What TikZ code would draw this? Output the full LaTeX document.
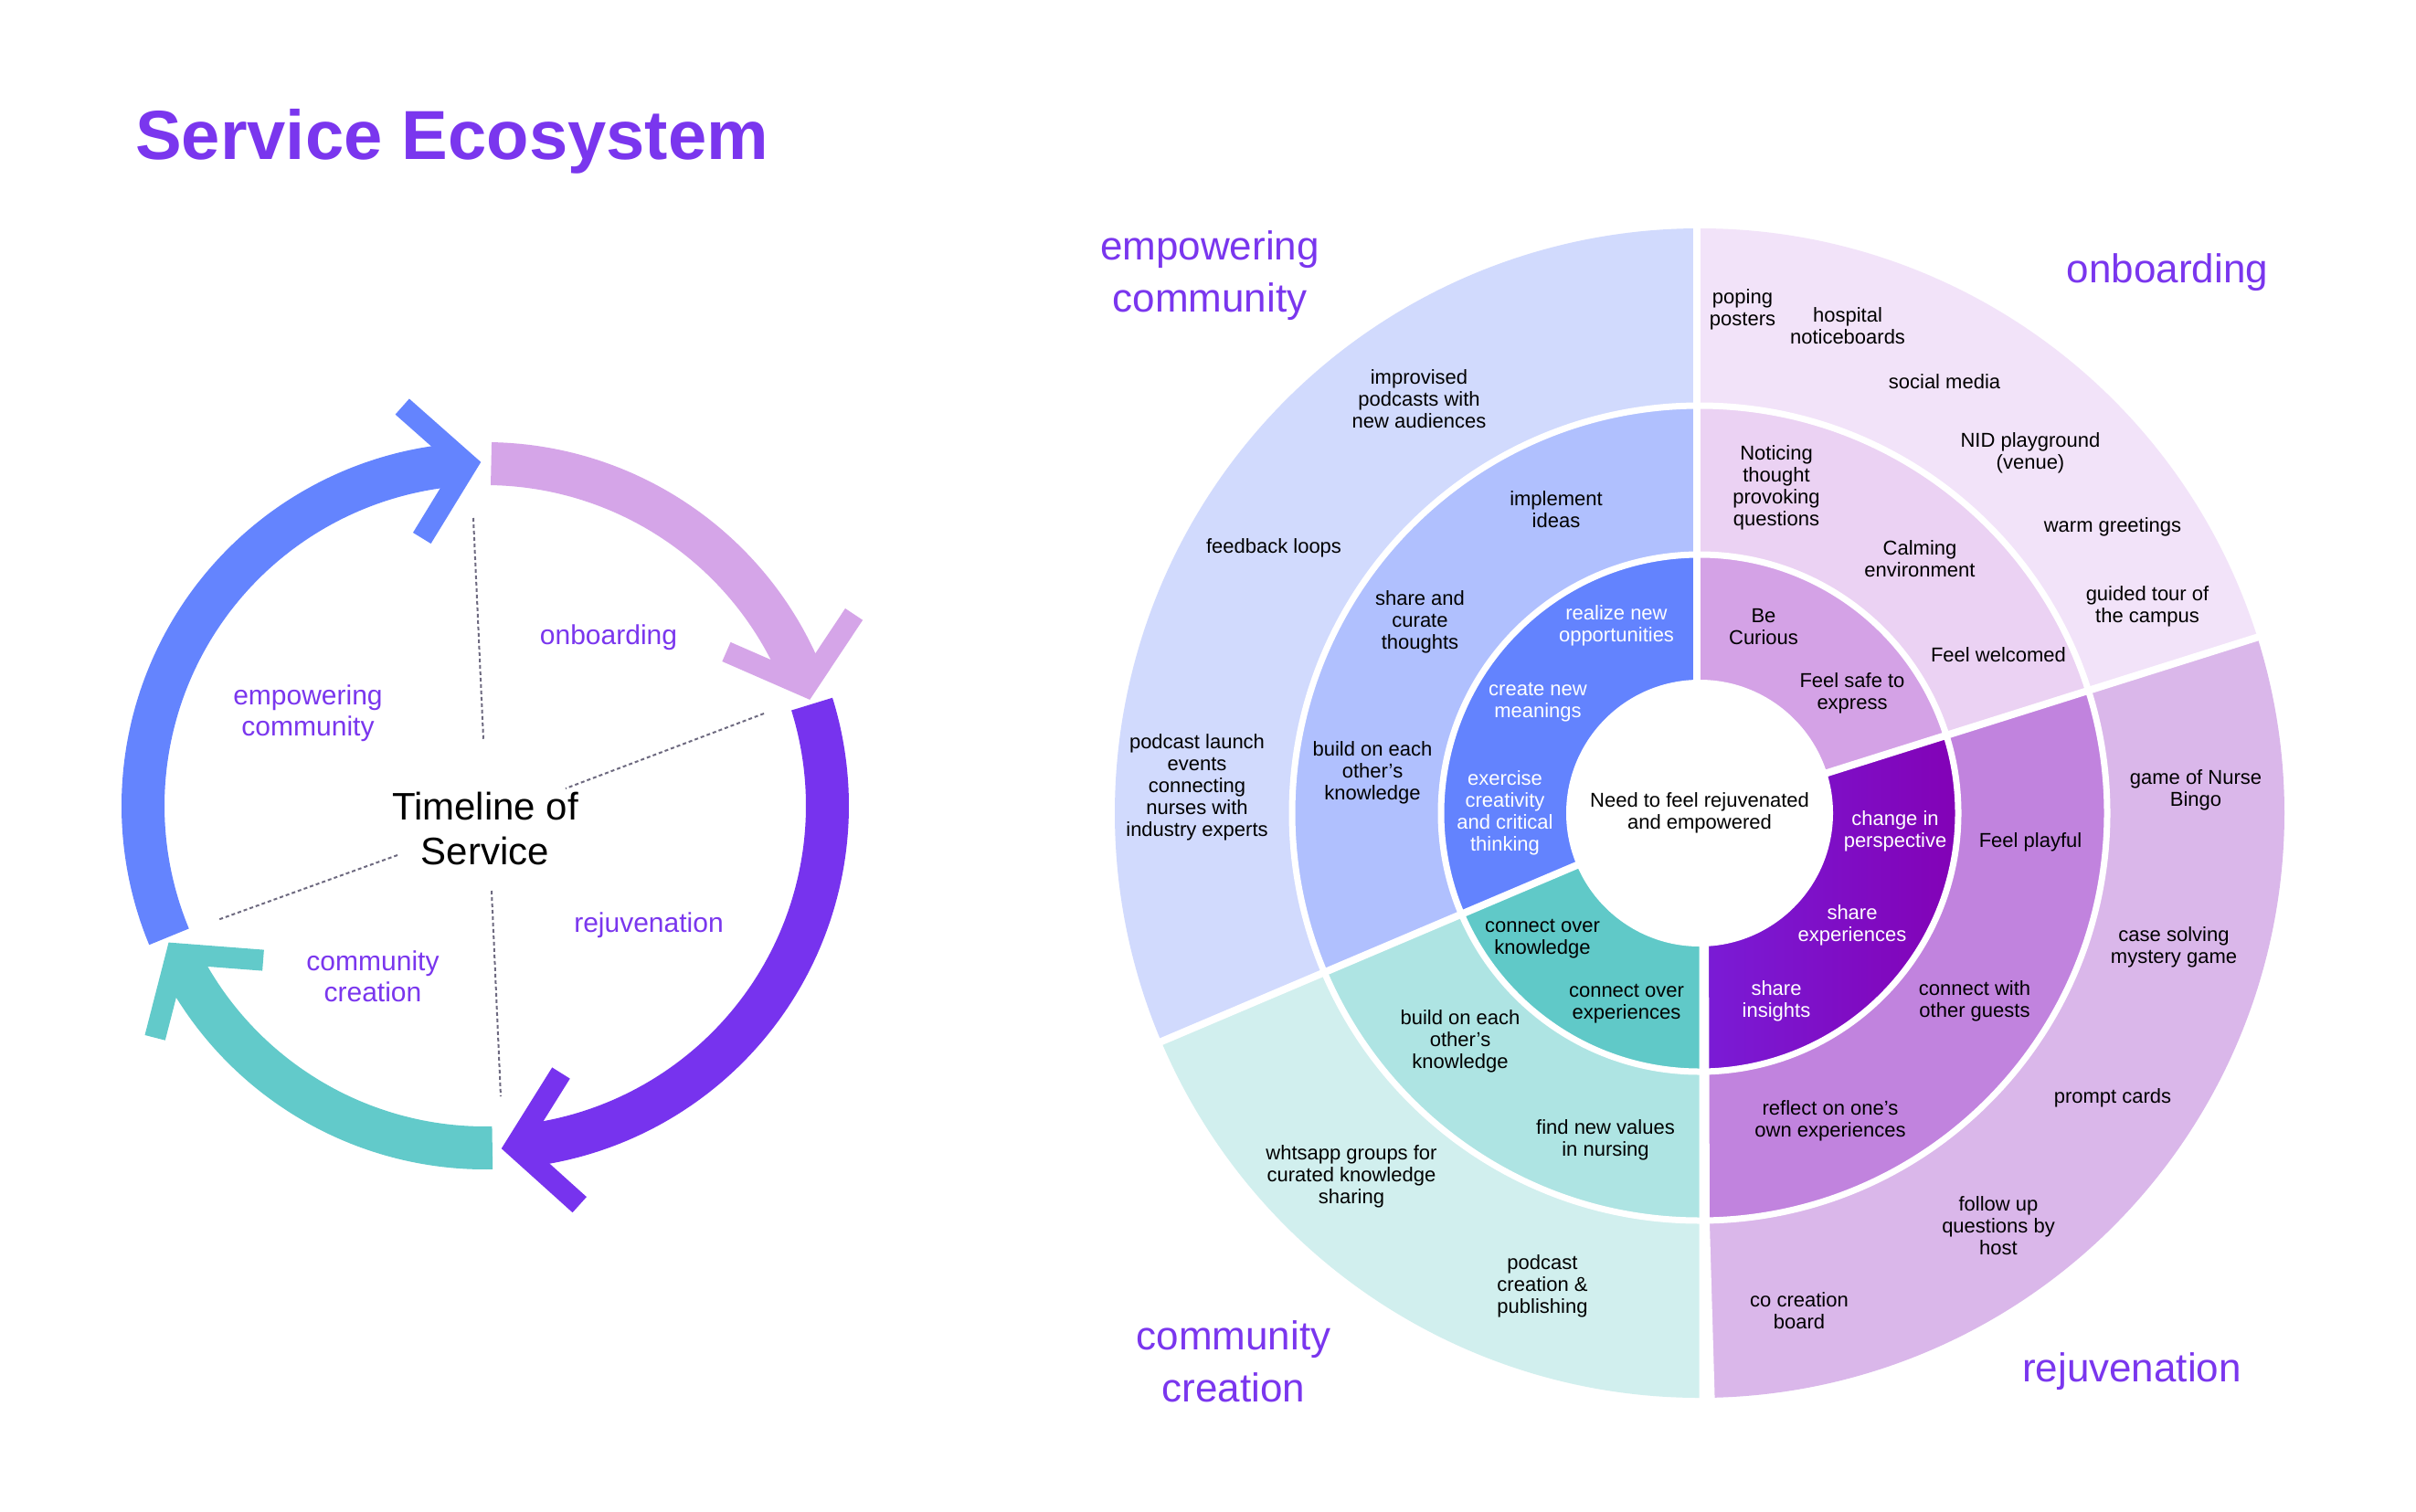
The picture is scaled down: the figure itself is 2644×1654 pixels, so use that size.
\documentclass[tikz,border=0pt]{standalone}
\usepackage{fontspec}
\setmainfont{Liberation Sans}
\definecolor{ttl}{HTML}{7A36EE}
\definecolor{arBlue}{HTML}{6484FE}
\definecolor{arOnb}{HTML}{D5A5E8}
\definecolor{arRej}{HTML}{7733EE}
\definecolor{arTeal}{HTML}{62CACA}
\definecolor{dotc}{HTML}{6E6A80}
\definecolor{inBlue}{HTML}{6383FE}
\definecolor{inOnb}{HTML}{D4A2E6}
\definecolor{inRejA}{HTML}{7A1CD6}
\definecolor{inRejB}{HTML}{8300B4}
\definecolor{inTeal}{HTML}{60C9C8}
\definecolor{miBlue}{HTML}{B0C0FE}
\definecolor{miOnb}{HTML}{EBD2F3}
\definecolor{miRej}{HTML}{C183DE}
\definecolor{miTeal}{HTML}{AEE4E3}
\definecolor{ouBlue}{HTML}{D1DAFD}
\definecolor{ouOnb}{HTML}{F2E3F9}
\definecolor{ouRej}{HTML}{DAB7EA}
\definecolor{ouTeal}{HTML}{D1EFEE}
\newcommand{\sbsector}[5]{\fill[#1] ([shift={(#2:#4pt)}]sb) arc[start angle=#2,end angle=#3,radius=#4pt] -- ([shift={(#3:#5pt)}]sb) arc[start angle=#3,end angle=#2,radius=#5pt] -- cycle;}
% colour, band start, band end, chevron vertex angle, chevron rotation
\newcommand{\cycarrow}[5]{%
  \draw[band,#1] ([shift={(#2:374.5pt)}]L) arc[start angle=#2,end angle=#3,radius=374.5pt];
  \draw[chev,#1] ([shift={(#4:374.5pt)}]L) ++({#4+40+#5}:95pt) -- ([shift={(#4:374.5pt)}]L) -- ++({#4+140+#5}:95pt);}
\begin{document}
\begin{tikzpicture}[x=1pt,y=1pt,
  lbl/.style={text=ttl, align=center, inner sep=0pt, font=\fontsize{30}{34}\selectfont},
  big/.style={text=ttl, align=center, inner sep=0pt, font=\fontsize{44}{57}\selectfont},
  rt/.style={text=black, align=center, inner sep=0pt, font=\fontsize{22}{24}\selectfont},
  wt/.style={rt, text=white},
  band/.style={line width=47pt},
  chev/.style={line width=23pt, line join=miter},
  dotl/.style={draw=dotc, line width=2pt, dash pattern=on 4pt off 3pt},
  sep/.style={draw=white, line width=8pt}]
\useasboundingbox (0,0) rectangle (2644,-1654);
\fill[white] (0,0) rectangle (2644,-1654);

% title
\node[anchor=base west, inner sep=0pt, text=ttl, font=\fontsize{76}{80}\selectfont\bfseries] (title) at (148,-174) {Service Ecosystem};

% ---------- left cycle ----------
\coordinate (L) at (531,-882);
\cycarrow{arBlue}{202.5}{94.6}{93}{5.5}
\cycarrow{arOnb}{89}{22}{20.4}{-4}
\cycarrow{arRej}{17.3}{-83.4}{-85}{3}
\cycarrow{arTeal}{-88.8}{-152.8}{-154.4}{10}

\coordinate (d1a) at (518,-567); \coordinate (d1b) at (529,-809);
\coordinate (d2a) at (836,-781); \coordinate (d2b) at (619,-863);
\coordinate (d3a) at (538,-975); \coordinate (d3b) at (548,-1200);
\coordinate (d4a) at (435,-936); \coordinate (d4b) at (238,-1007);
\draw[dotl] (d1a) -- (d1b);
\draw[dotl] (d2a) -- (d2b);
\draw[dotl] (d3a) -- (d3b);
\draw[dotl] (d4a) -- (d4b);

\node[inner sep=0pt, align=center, font=\fontsize{42}{49}\selectfont] (tl) at (531,-907) {Timeline of\\Service};
\node[lbl] (lonb) at (666,-698) {onboarding};
\node[lbl] (lemp) at (337,-781) {empowering\\community};
\node[lbl] (lrej) at (710,-1013) {rejuvenation};
\node[lbl] (lcom) at (408,-1069) {community\\creation};

% ---------- sunburst ----------
\coordinate (sb) at (1860,-890);
% outer ring
\sbsector{ouOnb}{17.5}{90}{447}{640}
\sbsector{ouBlue}{90}{203}{447}{640}
\sbsector{ouTeal}{203}{270}{447}{640}
\sbsector{ouRej}{-90}{17.5}{447}{640}
% middle ring
\sbsector{miOnb}{17.5}{90}{283}{447}
\sbsector{miBlue}{90}{203}{283}{447}
\sbsector{miTeal}{203}{270}{283}{447}
\sbsector{miRej}{-90}{17.5}{283}{447}
% inner ring
\sbsector{inOnb}{17.5}{90}{145}{283}
\sbsector{inBlue}{90}{203}{145}{283}
\sbsector{inTeal}{203}{270}{145}{283}
\shade[left color=inRejA, right color=inRejB] ([shift={(-90:145pt)}]sb) arc[start angle=-90,end angle=17.5,radius=145pt] -- ([shift={(17.5:283pt)}]sb) arc[start angle=17.5,end angle=-90,radius=283pt] -- cycle;
% separators
\draw[sep, line width=7pt] (sb) circle[radius=283pt];
\draw[sep, line width=7pt] (sb) circle[radius=446pt];
\fill[white] (1853,-240) rectangle (1860.5,-760);
\fill[white] (1859.5,-1020) -- (1870,-1020) -- (1871,-1340) -- (1877,-1545) -- (1859.5,-1545) -- cycle;
\draw[sep] ([shift={(17.5:140pt)}]sb) -- ([shift={(17.5:650pt)}]sb);
\draw[sep] ([shift={(203:140pt)}]sb) -- ([shift={(203:650pt)}]sb);
\fill[white] (sb) circle[radius=146pt];

% big labels
\node[big] (bemp) at (1324,-302) {empowering\\community};
\node[big] (bonb) at (2372,-298) {onboarding};
\node[big] (bcom) at (1350,-1490) {community\\creation};
\node[big] (brej) at (2333,-1501) {rejuvenation};

% center
\node[rt] (ctr) at (1860,-890) {Need to feel rejuvenated\\and empowered};

% inner ring
\node[wt] (i1) at (1769,-685) {realize new\\opportunities};
\node[wt] (i2) at (1683,-769) {create new\\meanings};
\node[wt] (i3) at (1647,-890) {exercise\\creativity\\and critical\\thinking};
\node[rt] (i4) at (1930,-686) {Be\\Curious};
\node[rt] (i5) at (2027,-759) {Feel safe to\\express};
\node[wt] (i6) at (2074,-910) {change in\\perspective};
\node[wt] (i7) at (2027,-1013) {share\\experiences};
\node[wt] (i8) at (1944,-1096) {share\\insights};
\node[rt] (i9) at (1688,-1028) {connect over\\knowledge};
\node[rt] (i10) at (1780,-1099) {connect over\\experiences};

% middle ring
\node[rt] (m1) at (1703,-558) {implement\\ideas};
\node[rt] (m2) at (1554,-681) {share and\\curate\\thoughts};
\node[rt] (m3) at (1502,-846) {build on each\\other’s\\knowledge};
\node[rt] (m4) at (1944,-534) {Noticing\\thought\\provoking\\questions};
\node[rt] (m5) at (2101,-612) {Calming\\environment};
\node[rt] (m6) at (2187,-717) {Feel welcomed};
\node[rt] (m7) at (2222,-922) {Feel playful};
\node[rt] (m8) at (2161,-1096) {connect with\\other guests};
\node[rt] (m9) at (2003,-1227) {reflect on one’s\\own experiences};
\node[rt] (m10) at (1757,-1248) {find new values\\in nursing};
\node[rt] (m11) at (1598,-1140) {build on each\\other’s\\knowledge};

% outer ring
\node[rt] (o1) at (1553,-437) {improvised\\podcasts with\\new audiences};
\node[rt] (o2) at (1394,-600) {feedback loops};
\node[rt] (o3) at (1310,-862) {podcast launch\\events\\connecting\\nurses with\\industry experts};
\node[rt] (o4) at (1907,-339) {poping\\posters};
\node[rt] (o5) at (2022,-357) {hospital\\noticeboards};
\node[rt] (o6) at (2128,-418) {social media};
\node[rt] (o7) at (2222,-496) {NID playground\\(venue)};
\node[rt] (o8) at (2312,-577) {warm greetings};
\node[rt] (o9) at (2350,-664) {guided tour of\\the campus};
\node[rt] (o10) at (2403,-865) {game of Nurse\\Bingo};
\node[rt] (o11) at (2379,-1037) {case solving\\mystery game};
\node[rt] (o12) at (2312,-1202) {prompt cards};
\node[rt] (o13) at (2187,-1342) {follow up\\questions by\\host};
\node[rt] (o14) at (1969,-1435) {co creation\\board};
\node[rt] (o15) at (1479,-1288) {whtsapp groups for\\curated knowledge\\sharing};
\node[rt] (o16) at (1688,-1408) {podcast\\creation \&\\publishing};
\end{tikzpicture}
\end{document}
